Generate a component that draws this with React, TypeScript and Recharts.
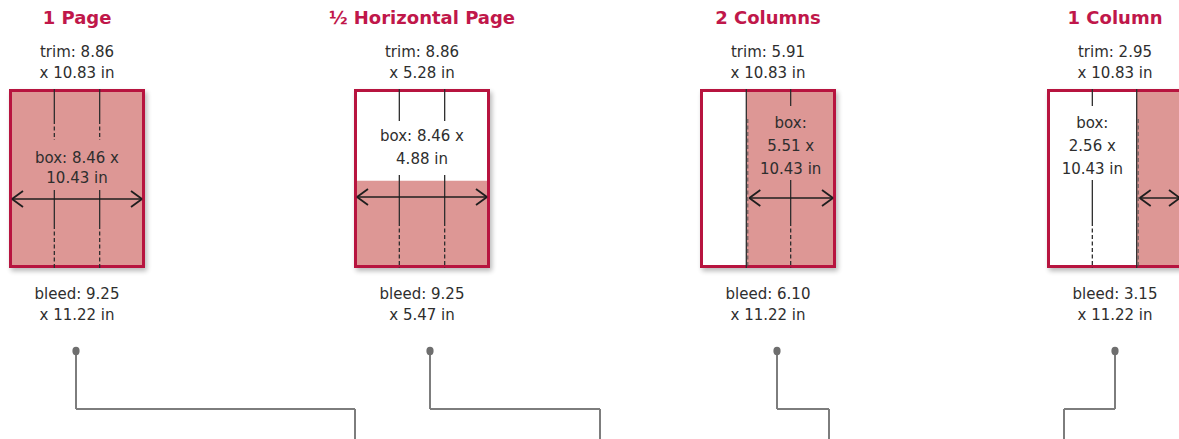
import { ComposedChart, XAxis, YAxis, ReferenceArea, ReferenceLine, Scatter } from "recharts";

// ad formats (inches)
const titles = ["1 Page", "½ Horizontal Page", "2 Columns", "1 Column"];
const trimW = [8.86, 8.86, 5.91, 2.95];
const trimH = [10.83, 5.28, 10.83, 10.83];
const boxW = [8.46, 8.46, 5.51, 2.56];
const boxH = [10.43, 4.88, 10.43, 10.43];
const bleedW = [9.25, 9.25, 6.1, 3.15];
const bleedH = [11.22, 5.47, 11.22, 11.22];

// layout in the 1179 x 439 frame
const W = 1179;
const H = 439;
const pageLeft = [9, 354, 700, 1047];
const pageW = 136;
const pageTop = 89;
const pageBottom = 268;
const arrowY = [199, 197, 198, 198];
const guideFrac = [[1 / 3, 2 / 3], [1 / 3, 2 / 3], [2 / 3], [1 / 3]];
const guideSegs = [
  [[89, 120, 0], [120, 140, 1], [190, 225, 0], [225, 268, 1]],
  [[89, 117, 0], [117, 121, 1], [175, 222, 0], [222, 268, 1]],
  [[89, 106, 0], [180, 222, 0], [222, 268, 1]],
  [[89, 106, 0], [180, 222, 0], [222, 268, 1]],
];
const boxTextFrac = [0.5, 0.5, 2 / 3, 1 / 3];
const boxTextY = [[157, 177], [135, 158], [122, 145, 168], [122, 145, 168]];
const dotX = [76, 430, 777, 1115];
const legEndX = [355, 600, 829, 1064];
const dotY = 351;
const elbowY = 409;

const CRIMSON = "#b7143f";
const SALMON = "#dd9795";
const INK = "#2e2e2e";
const GREY = "#7d7d7d";

const fmt = (v: number) => v.toFixed(2);

const pages = titles.map((t, i) => {
  const x1 = pageLeft[i];
  const x2 = x1 + pageW;
  const fw = (bleedW[i] / bleedW[0]) * pageW;
  const fh = (bleedH[i] / bleedH[0]) * (pageBottom - pageTop);
  return { i, x1, x2, cx: (x1 + x2) / 2, fillX1: x2 - fw, fillY1: pageBottom - fh };
});

type Label = { x: number; y: number; text: string; kind: "title" | "body" };
const labels: Label[] = [];
pages.forEach((p) => {
  const i = p.i;
  labels.push({ x: p.cx, y: 17, text: titles[i], kind: "title" });
  labels.push({ x: p.cx, y: 51, text: `trim: ${fmt(trimW[i])}`, kind: "body" });
  labels.push({ x: p.cx, y: 72, text: `x ${fmt(trimH[i])} in`, kind: "body" });
  labels.push({ x: p.cx, y: 293, text: `bleed: ${fmt(bleedW[i])}`, kind: "body" });
  labels.push({ x: p.cx, y: 314, text: `x ${fmt(bleedH[i])} in`, kind: "body" });
  const lines =
    boxTextY[i].length === 2
      ? [`box: ${fmt(boxW[i])} x`, `${fmt(boxH[i])} in`]
      : ["box:", `${fmt(boxW[i])} x`, `${fmt(boxH[i])} in`];
  const tx = p.x1 + boxTextFrac[i] * pageW;
  lines.forEach((s, k) => labels.push({ x: tx, y: boxTextY[i][k], text: s, kind: "body" }));
});

const dots = dotX.map((x) => ({ x, y: dotY }));

type Seg = { a: [number, number]; b: [number, number]; dash?: boolean; w: number; c: string };
const segs: Seg[] = [];
pages.forEach((p) => {
  const i = p.i;
  guideFrac[i].forEach((f) => {
    const gx = p.x1 + f * pageW;
    guideSegs[i].forEach(([y1, y2, d]) =>
      segs.push({ a: [gx, y1], b: [gx, y2], dash: d === 1, w: 1.3, c: INK })
    );
  });
  if (p.fillX1 > p.x1 + 2) {
    segs.push({ a: [p.fillX1, pageTop], b: [p.fillX1, pageBottom], w: 1.3, c: INK });
    segs.push({ a: [p.fillX1 + 1.5, pageTop + 30], b: [p.fillX1 + 1.5, pageBottom], dash: true, w: 1, c: "#555" });
  }
  const ax1 = Math.max(p.fillX1, p.x1) + 3;
  const ax2 = p.x2 - 3;
  const y = arrowY[i];
  segs.push({ a: [ax1, y], b: [ax2, y], w: 1.5, c: "#1e1e1e" });
  segs.push({ a: [ax1, y], b: [ax1 + 11, y - 8], w: 1.8, c: "#1e1e1e" });
  segs.push({ a: [ax1, y], b: [ax1 + 11, y + 8], w: 1.8, c: "#1e1e1e" });
  segs.push({ a: [ax2, y], b: [ax2 - 11, y - 8], w: 1.8, c: "#1e1e1e" });
  segs.push({ a: [ax2, y], b: [ax2 - 11, y + 8], w: 1.8, c: "#1e1e1e" });
});
dotX.forEach((x, i) => {
  segs.push({ a: [x, dotY], b: [x, elbowY], w: 2, c: GREY });
  segs.push({ a: [x, elbowY], b: [legEndX[i], elbowY], w: 2, c: GREY });
  segs.push({ a: [legEndX[i], elbowY], b: [legEndX[i], H], w: 2, c: GREY });
});

const TextShape = (props: any) => {
  const { cx, cy, payload } = props;
  const title = payload.kind === "title";
  return (
    <text
      x={cx}
      y={cy + (title ? 6.5 : 5.5)}
      textAnchor="middle"
      fontFamily="'DejaVu Sans', sans-serif"
      fontSize={title ? 18 : 15}
      fontWeight={title ? 700 : 400}
      fill={title ? "#c0174a" : INK}
    >
      {payload.text}
    </text>
  );
};

const DotShape = (props: any) => <ellipse cx={props.cx} cy={props.cy} rx={3.6} ry={4.2} fill="#6e6e6e" />;

const ShadowShape = (props: any) => (
  <rect x={props.x + 2} y={props.y + 3} width={props.width} height={props.height} fill="#000" opacity={0.28} filter="url(#pageShadow)" />
);

export default function App() {
  return (
    <div style={{ position: "absolute", left: 0, top: 0, background: "#fff" }}>
      <ComposedChart width={W} height={H} margin={{ top: 0, right: 0, bottom: 0, left: 0 }}>
        <defs>
          <filter id="pageShadow" x="-20%" y="-20%" width="140%" height="140%">
            <feGaussianBlur stdDeviation="2.5" />
          </filter>
        </defs>
        <XAxis type="number" dataKey="x" domain={[0, W]} allowDataOverflow hide />
        <YAxis type="number" dataKey="y" domain={[0, H]} allowDataOverflow reversed hide />
        {pages.map((p) => (
          <ReferenceArea key={`s${p.i}`} x1={p.x1} x2={p.x2} y1={pageTop} y2={pageBottom} ifOverflow="visible" shape={ShadowShape} />
        ))}
        {pages.map((p) => (
          <ReferenceArea key={`w${p.i}`} x1={p.x1} x2={p.x2} y1={pageTop} y2={pageBottom} ifOverflow="visible" fill="#fff" fillOpacity={1} stroke="none" />
        ))}
        {pages.map((p) => (
          <ReferenceArea key={`f${p.i}`} x1={p.fillX1} x2={p.x2} y1={p.fillY1} y2={pageBottom} ifOverflow="visible" fill={SALMON} fillOpacity={1} stroke="none" />
        ))}
        {segs.map((s, k) => (
          <ReferenceLine
            key={`l${k}`}
            segment={[{ x: s.a[0], y: s.a[1] }, { x: s.b[0], y: s.b[1] }]}
            stroke={s.c}
            strokeWidth={s.w}
            strokeDasharray={s.dash ? "4 2.5" : undefined}
            ifOverflow="visible"
          />
        ))}
        {pages.map((p) => (
          <ReferenceArea key={`b${p.i}`} x1={p.x1 + 1.5} x2={p.x2 - 1.5} y1={pageTop + 1.5} y2={pageBottom - 1.5} ifOverflow="visible" fill="none" stroke={CRIMSON} strokeWidth={3} />
        ))}
        <Scatter data={dots} shape={DotShape} isAnimationActive={false} />
        <Scatter data={labels} shape={TextShape} isAnimationActive={false} />
      </ComposedChart>
    </div>
  );
}
